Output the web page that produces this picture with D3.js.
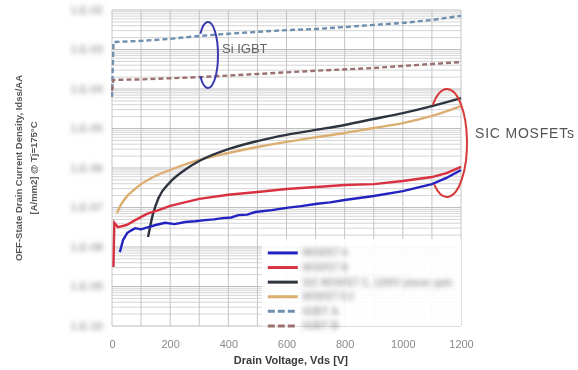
<!DOCTYPE html>
<html>
<head>
<meta charset="utf-8">
<script src="https://cdn.jsdelivr.net/npm/d3@7"></script>
<style>
  body { margin: 0; background: #fff; }
  text { font-family: "Liberation Sans", Arial, sans-serif; }
</style>
</head>
<body>
<div id="chart"></div>
<script>
// ---- data ----
const xTicks = [0, 200, 400, 600, 800, 1000, 1200];
const yDecades = [1e-10, 1e-9, 1e-8, 1e-7, 1e-6, 1e-5, 1e-4, 1e-3, 1e-2];
const yTickLabels = ["1.E-10", "1.E-09", "1.E-08", "1.E-07", "1.E-06", "1.E-05", "1.E-04", "1.E-03", "1.E-02"];

// SiC MOSFET A (blue)
const mosA_v = [27, 38, 52, 65, 80, 100, 125, 150, 183, 215, 252, 285, 320, 350, 380, 410, 435, 465, 493, 550, 600, 650, 700, 750, 800, 900, 1000, 1100, 1150, 1200];
const mosA_i = [7.4e-9, 1.5e-8, 2.25e-8, 2.6e-8, 3.0e-8, 2.8e-8, 3.2e-8, 3.6e-8, 4.1e-8, 3.8e-8, 4.3e-8, 4.5e-8, 4.8e-8, 5.0e-8, 5.4e-8, 5.6e-8, 6.4e-8, 6.6e-8, 7.7e-8, 8.6e-8, 9.8e-8, 1.08e-7, 1.23e-7, 1.35e-7, 1.55e-7, 1.95e-7, 2.6e-7, 3.9e-7, 5.6e-7, 8.9e-7];
// SiC MOSFET B (red)
const mosB_v = [5, 8, 20, 50, 80, 120, 160, 200, 250, 300, 400, 500, 600, 700, 800, 900, 1000, 1100, 1150, 1200];
const mosB_i = [3.1e-9, 4.1e-8, 3.2e-8, 3.6e-8, 4.8e-8, 6.9e-8, 8.6e-8, 1.1e-7, 1.35e-7, 1.65e-7, 2.1e-7, 2.46e-7, 2.95e-7, 3.3e-7, 3.7e-7, 3.9e-7, 4.7e-7, 5.9e-7, 7.4e-7, 1.07e-6];
// SiC MOSFET C (black)
const mosC_v = [124, 140, 160, 200, 250, 300, 400, 500, 600, 700, 800, 900, 1000, 1100, 1200];
const mosC_i = [1.79e-8, 6.5e-8, 1.74e-7, 4.4e-7, 8.9e-7, 1.5e-6, 3.0e-6, 4.8e-6, 6.9e-6, 9.2e-6, 1.23e-5, 1.74e-5, 2.46e-5, 3.7e-5, 5.9e-5];
// SiC MOSFET D (tan)
const mosD_v = [17, 30, 50, 75, 100, 150, 200, 300, 400, 500, 600, 700, 800, 900, 1000, 1100, 1200];
const mosD_i = [7.2e-8, 1.15e-7, 1.86e-7, 2.77e-7, 3.9e-7, 6.3e-7, 8.9e-7, 1.6e-6, 2.4e-6, 3.4e-6, 4.6e-6, 6.0e-6, 7.7e-6, 1.03e-5, 1.37e-5, 2.08e-5, 3.7e-5];
// Si IGBT A (blue dashed)
const igbtA_v = [0, 5, 100, 200, 300, 400, 500, 600, 700, 800, 900, 1000, 1100, 1200];
const igbtA_i = [6.3e-5, 1.55e-3, 1.65e-3, 1.86e-3, 2.2e-3, 2.5e-3, 2.8e-3, 3.1e-3, 3.3e-3, 3.7e-3, 4.2e-3, 4.7e-3, 5.6e-3, 7.1e-3];
// Si IGBT B (red dashed)
const igbtB_v = [0, 5, 100, 300, 500, 700, 900, 1100, 1200];
const igbtB_i = [9e-5, 1.7e-4, 1.75e-4, 2.0e-4, 2.4e-4, 2.9e-4, 3.4e-4, 4.3e-4, 4.8e-4];

const seriesNames = ["MOSFET A", "MOSFET B", "SiC MOSFET C, 1200V planar gate", "MOSFET D-2", "IGBT A", "IGBT B"];
const seriesLabelWidths = [45, 45, 150, 51, 36, 36];
const seriesColors = ["#2424c0", "#d83040", "#2e3440", "#dcae72", "#6f8fb0", "#9c7070"];

// ---- layout ----
const W = 578, H = 370;
const margin = {top: 10, right: 117, bottom: 44, left: 112};
const width = W - margin.left - margin.right,
      height = H - margin.top - margin.bottom;

const svgRoot = d3.select("#chart").append("svg")
  .attr("width", W).attr("height", H);

const defs = svgRoot.append("defs");
defs.append("filter").attr("id", "soft")
  .append("feGaussianBlur").attr("stdDeviation", 0.6);
defs.append("filter").attr("id", "hide").attr("x", "-20%").attr("y", "-80%").attr("width", "140%").attr("height", "260%")
  .append("feGaussianBlur").attr("stdDeviation", 2.4);
defs.append("clipPath").attr("id", "clip")
  .append("rect").attr("x", -1).attr("y", -2).attr("width", width + 2).attr("height", height + 4);

const root = svgRoot.append("g").attr("filter", "url(#soft)");
const svg = root.append("g").attr("transform", `translate(${margin.left},${margin.top})`);

const x = d3.scaleLinear().domain([0, 1200]).range([0, width]);
const y = d3.scaleLog().domain([1e-10, 1e-2]).range([height, 0]);

// minor log grid (2..9 in every decade)
const minor = [];
yDecades.slice(0, -1).forEach(d => { for (let k = 2; k <= 9; k++) minor.push(d * k); });
svg.append("g").selectAll("line").data(minor).join("line")
  .attr("x1", 0).attr("x2", width)
  .attr("y1", d => y(d)).attr("y2", d => y(d))
  .attr("stroke", "#d4d4d4").attr("stroke-width", 1);

// vertical grid every 100 V
svg.append("g").selectAll("line").data(d3.range(0, 1201, 100)).join("line")
  .attr("x1", d => x(d)).attr("x2", d => x(d))
  .attr("y1", 0).attr("y2", height)
  .attr("stroke", "#c4c4c4").attr("stroke-width", 1);

// major decade grid
svg.append("g").selectAll("line").data(yDecades).join("line")
  .attr("x1", 0).attr("x2", width)
  .attr("y1", d => y(d)).attr("y2", d => y(d))
  .attr("stroke", "#bdbdbd").attr("stroke-width", 1);

// y tick labels (blurred in the source)
svg.append("g").selectAll("text").data(yDecades).join("text")
  .attr("x", -9).attr("y", d => y(d)).attr("dy", "0.35em")
  .attr("text-anchor", "end")
  .attr("font-size", 11).attr("font-weight", "bold")
  .attr("fill", "#a8a8a8").attr("filter", "url(#hide)")
  .text((d, i) => yTickLabels[i]);

// x axis labels
svg.append("g")
  .attr("transform", `translate(0,${height})`)
  .call(d3.axisBottom(x).tickValues(xTicks).tickSize(0).tickPadding(14).tickFormat(d3.format("d")))
  .call(g => g.select(".domain").remove())
  .selectAll("text")
  .attr("font-family", "'Liberation Serif', serif")
  .attr("font-size", 11).attr("fill", "#8a8a8a");

// axis titles
svg.append("text")
  .attr("x", x(615)).attr("y", height + 38)
  .attr("text-anchor", "middle")
  .attr("font-size", 11).attr("font-weight", "bold").attr("fill", "#3a3a3a")
  .text("Drain Voltage, Vds [V]");

const yTitle = root.append("text")
  .attr("transform", "translate(0,168) rotate(-90)")
  .attr("text-anchor", "middle")
  .attr("font-size", 9.5).attr("font-weight", "bold").attr("fill", "#555");
yTitle.append("tspan").attr("x", 0).attr("y", 22).text("OFF-State Drain Current Density, Idss/AA");
yTitle.append("tspan").attr("x", 0).attr("y", 37).text("[A/mm2] @ Tj=175\u00B0C");

// ---- curves ----
const line = d3.line().x(d => x(d[0])).y(d => y(d[1]));
const curves = [
  {v: igbtA_v, i: igbtA_i, c: 4, dash: "5,3"},
  {v: igbtB_v, i: igbtB_i, c: 5, dash: "5,3"},
  {v: mosD_v, i: mosD_i, c: 3, dash: null, curve: d3.curveMonotoneX},
  {v: mosC_v, i: mosC_i, c: 2, dash: null, curve: d3.curveMonotoneX},
  {v: mosB_v, i: mosB_i, c: 1, dash: null},
  {v: mosA_v, i: mosA_i, c: 0, dash: null}
];
const plot = svg.append("g").attr("clip-path", "url(#clip)");
curves.forEach(s => {
  const pts = d3.zip(s.v, s.i);
  plot.append("path")
    .datum(pts)
    .attr("fill", "none")
    .attr("stroke", seriesColors[s.c])
    .attr("stroke-width", 2.4)
    .attr("stroke-dasharray", s.dash)
    .attr("d", line.curve(s.curve || d3.curveLinear)(pts));
});

// ---- legend ----
const lg = svg.append("g").attr("transform", `translate(${x(515)},${y(1.6e-8)})`);
lg.append("rect").attr("x", 0).attr("y", 0)
  .attr("width", width - x(515)).attr("height", height - y(1.6e-8))
  .attr("fill", "#fff").attr("opacity", 0.9);
seriesNames.forEach((name, i) => {
  const row = lg.append("g").attr("transform", `translate(0,${14 + i * 14.6})`);
  row.append("line").attr("x1", 6).attr("x2", 36).attr("y1", 0).attr("y2", 0)
    .attr("stroke", seriesColors[i]).attr("stroke-width", 3)
    .attr("stroke-dasharray", i >= 4 ? "7,3" : null);
  row.append("text").attr("x", 41).attr("y", 0).attr("dy", "0.35em")
    .attr("font-size", 10).attr("font-weight", "bold")
    .attr("textLength", seriesLabelWidths[i]).attr("lengthAdjust", "spacingAndGlyphs")
    .attr("fill", "#a0a0a0").attr("filter", "url(#hide)")
    .text(name);
});

// ---- annotations ----
function openEllipse(cx, cy, rx, ry, a0, a1) {
  const p = a => [cx + rx * Math.cos(a * Math.PI / 180), cy + ry * Math.sin(a * Math.PI / 180)];
  const s = p(a0), e = p(a1);
  return `M${s[0]},${s[1]} A${rx},${ry} 0 1 1 ${e[0]},${e[1]}`;
}
root.append("path")
  .attr("d", openEllipse(208, 55, 10, 33, -140, 140))
  .attr("fill", "none").attr("stroke", "#3a3ab0").attr("stroke-width", 2);
root.append("text").attr("x", 222).attr("y", 53)
  .attr("font-size", 13).attr("fill", "#666").text("Si IGBT");

root.append("path")
  .attr("d", openEllipse(447, 143, 20, 54, -135, 130))
  .attr("fill", "none").attr("stroke", "#d83a3a").attr("stroke-width", 2);
root.append("text").attr("x", 475).attr("y", 138)
  .attr("font-size", 14).attr("letter-spacing", 0.8).attr("fill", "#555").text("SIC MOSFETs");
</script>
</body>
</html>
